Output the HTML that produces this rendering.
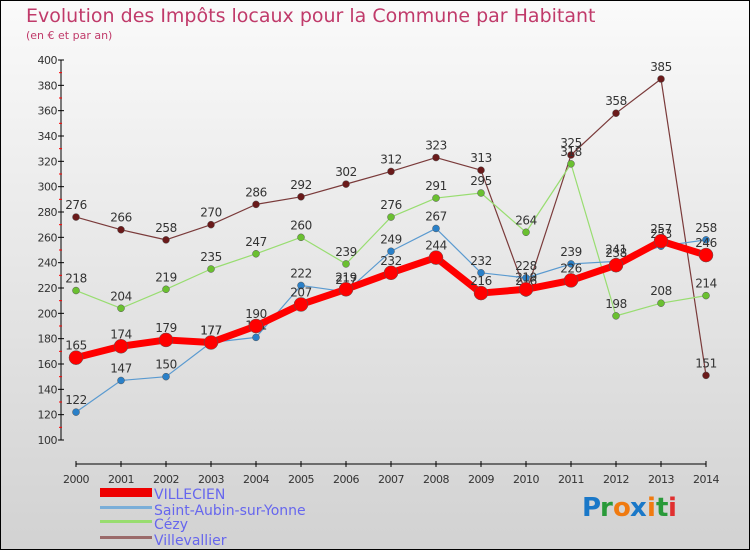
<!DOCTYPE html>
<html><head><meta charset="utf-8"><style>
body{margin:0}
#c{width:748px;height:548px;border:1px solid #000;background:linear-gradient(#fafafa,#d2d2d2);position:relative;font-family:"DejaVu Sans","Liberation Sans",sans-serif;overflow:hidden}
text{font-family:"DejaVu Sans","Liberation Sans",sans-serif}
</style></head><body>
<div id="c">
<svg id="s" width="748" height="548" viewBox="1 1 748 548">
<text x="26" y="22" font-size="19" fill="#c03a6a">Evolution des Impôts locaux pour la Commune par Habitant</text>
<text x="26" y="39" font-size="11" fill="#c03a6a">(en € et par an)</text>
<g id="axes"></g><g id="series"></g>
<g>
<rect x="100" y="488" width="52" height="9" fill="#e00"/>
<text x="154" y="499" font-size="14" fill="#6666ee">VILLECIEN</text>
<rect x="100" y="506" width="52" height="3" fill="#7aaed8"/>
<text x="154" y="515" font-size="14" fill="#6666ee">Saint-Aubin-sur-Yonne</text>
<rect x="100" y="520" width="52" height="3" fill="#98dd70"/>
<text x="154" y="529" font-size="14" fill="#6666ee">Cézy</text>
<rect x="100" y="536" width="52" height="3" fill="#9a6a6a"/>
<text x="154" y="545" font-size="14" fill="#6666ee">Villevallier</text>
</g>
<g font-size="26" font-weight="bold">
<text x="582" y="516" fill="#1a78c8">P</text><text x="600" y="516" fill="#2a9a3a">r</text><text x="613" y="516" fill="#f07a10">o</text><text x="630" y="516" fill="#1a78c8">x</text><text x="647" y="516" fill="#f07a10">i</text><text x="656" y="516" fill="#2a9a3a">t</text><text x="668" y="516" fill="#e03030">i</text>
</g>
</svg></div>
<script>
const years=[2000,2001,2002,2003,2004,2005,2006,2007,2008,2009,2010,2011,2012,2013,2014];
const yTicks=[100,120,140,160,180,200,220,240,260,280,300,320,340,360,380,400];
const villecien=[165,174,179,177,190,207,219,232,244,216,219,226,238,257,246];
const saintAubin=[122,147,150,177,181,222,217,249,267,232,228,239,241,253,258];
const cezy=[218,204,219,235,247,260,239,276,291,295,264,318,198,208,214];
const villevallier=[276,266,258,270,286,292,302,312,323,313,216,325,358,385,151];
const NS="http://www.w3.org/2000/svg";
const X=i=>76+i*45, Y=v=>440-(v-100)*380/300;
function mk(tag,attrs,parent){const e=document.createElementNS(NS,tag);for(const k in attrs)e.setAttribute(k,attrs[k]);parent.appendChild(e);return e;}
const ax=document.getElementById('axes');
let l=mk('line',{x1:61,y1:Y(400),x2:61,y2:Y(100),stroke:'#000'},ax);


yTicks.forEach((v,i)=>{
 mk('line',{x1:58,x2:64,y1:Y(v),y2:Y(v),stroke:'#000'},ax);
 if(i<yTicks.length-1) mk('line',{x1:59,x2:62,y1:Y(v+10),y2:Y(v+10),stroke:'#f00'},ax);
 const t=mk('text',{x:57,y:Y(v)+4,'font-size':11,fill:'#333','text-anchor':'end','letter-spacing':'-0.5'},ax);
 t.textContent=v;
 
 
});
l=mk('line',{x1:76,y1:464,x2:706,y2:464,stroke:'#000'},ax);


years.forEach((y,i)=>{
 mk('line',{x1:X(i),x2:X(i),y1:461,y2:467,stroke:'#000'},ax);
 const t=mk('text',{x:X(i),y:483,'font-size':11,fill:'#333','text-anchor':'middle','letter-spacing':'-0.5'},ax);
 t.textContent=y;
 
 
});
const sg=document.getElementById('series');
function draw(data,name,color,dot,lw,r){
 const g=mk('g',{},sg);
 
 
 const p=mk('polyline',{points:data.map((v,i)=>X(i)+','+Y(v)).join(' '),fill:'none',stroke:color,'stroke-width':lw,'stroke-linejoin':'round'},g);
 
 
 data.forEach((v,i)=>{
  const c=mk('circle',{cx:X(i),cy:Y(v),r:r,fill:dot,stroke:'#555','stroke-width':0.5},g);
  
  
  const t=mk('text',{x:X(i),y:Y(v)-8,'font-size':12,fill:'#333','text-anchor':'middle','letter-spacing':'-0.5'},g);
  t.textContent=v;
  
  
 });
}
draw(villevallier,'villevallier','#7a3a3a','#6a1a1a',1.2,3.5);
draw(cezy,'cezy','#98dd70','#6ac030',1.2,3.5);
draw(saintAubin,'saint-aubin','#5a9ad0','#2a80c8',1.2,3.5);
draw(villecien,'villecien','#f00','#f00',7,7);
</script>
</body></html>
